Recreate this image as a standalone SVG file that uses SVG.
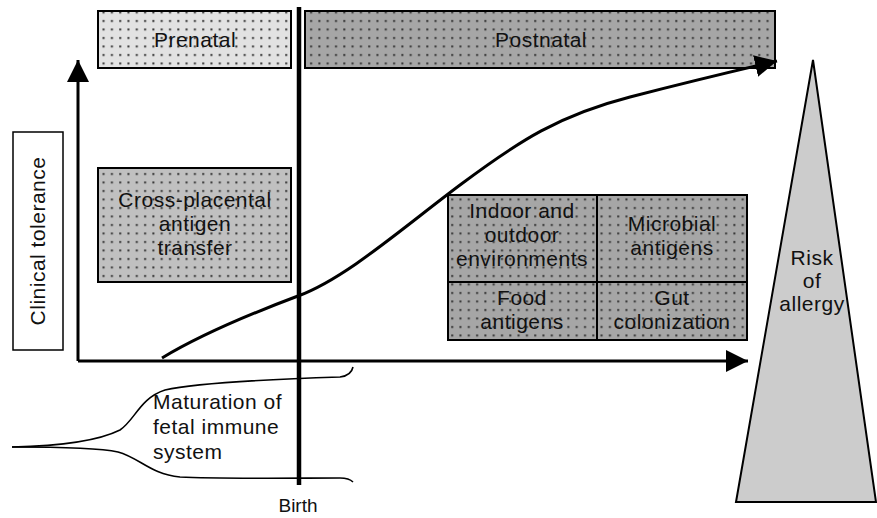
<svg xmlns="http://www.w3.org/2000/svg" width="877" height="518" viewBox="0 0 877 518">
<style>
.t{font-family:"Liberation Sans",Arial,sans-serif;font-size:21px;letter-spacing:0.5px;fill:#111;text-anchor:middle}
.box{stroke:#000;stroke-width:2}
.ax{stroke:#000;stroke-width:3;fill:none}
.thin{stroke:#000;stroke-width:1.6;fill:none}
</style>
<defs>
<pattern id="dots" x="0" y="0" width="8.3" height="8.5" patternUnits="userSpaceOnUse">
<rect x="3" y="3" width="2" height="2" fill="#333"/>
</pattern>
<marker id="ah" markerUnits="userSpaceOnUse" markerWidth="24" markerHeight="22" refX="22" refY="11" orient="auto">
<polygon points="0,0 22,11 0,22" fill="#000"/>
</marker>
</defs>
<g id="prenatal">
<rect x="98" y="11" width="193" height="57" fill="#e2e2e2"/>
<rect x="98" y="11" width="193" height="57" fill="url(#dots)" class="box"/>
<text class="t" x="195" y="47">Prenatal</text>
</g>
<g id="postnatal">
<rect x="305" y="11" width="470" height="57" fill="#a6a6a6"/>
<rect x="305" y="11" width="470" height="57" fill="url(#dots)" class="box"/>
<text class="t" x="541" y="47">Postnatal</text>
</g>
<g id="cross-placental">
<rect x="98" y="168" width="193" height="114" fill="#c0c0c0"/>
<rect x="98" y="168" width="193" height="114" fill="url(#dots)" class="box"/>
<text class="t" x="195" y="207">Cross-placental</text>
<text class="t" x="195" y="231">antigen</text>
<text class="t" x="195" y="255">transfer</text>
</g>
<g id="environment-factors">
<rect x="448" y="195" width="299" height="145" fill="#a6a6a6"/>
<rect x="448" y="195" width="299" height="145" fill="url(#dots)" class="box"/>
<line x1="597" y1="195" x2="597" y2="340" class="box"/>
<line x1="448" y1="282" x2="747" y2="282" class="box"/>
<text class="t" x="522" y="218">Indoor and</text>
<text class="t" x="522" y="242">outdoor</text>
<text class="t" x="522" y="266">environments</text>
<text class="t" x="672" y="231">Microbial</text>
<text class="t" x="672" y="255">antigens</text>
<text class="t" x="522" y="305">Food</text>
<text class="t" x="522" y="329">antigens</text>
<text class="t" x="672" y="305">Gut</text>
<text class="t" x="672" y="329">colonization</text>
</g>
<g id="clinical-tolerance">
<rect x="13" y="132" width="50" height="218" fill="#fff" stroke="#000" stroke-width="1.5"/>
<text class="t" x="0" y="0" transform="translate(45,241) rotate(-90)">Clinical tolerance</text>
</g>
<g id="risk-of-allergy">
<polygon points="813,60 736,502 876,502" fill="#cccccc" stroke="#000" stroke-width="2"/>
<text class="t" x="812" y="265">Risk</text>
<text class="t" x="812" y="288">of</text>
<text class="t" x="812" y="311">allergy</text>
</g>
<g id="maturation">
<path class="thin" d="M12,447 C60,446 100,440 120,430 C135,420 140,398 165,390 C200,382 280,379 340,377 C348,376 352,372 353,367"/>
<path class="thin" d="M12,447 C60,447 100,448 118,452 C140,458 150,474 180,477 C220,479 300,478 340,478 C348,478 351,480 353,482"/>
<text class="t" x="153" y="409" style="text-anchor:start">Maturation of</text>
<text class="t" x="153" y="434" style="text-anchor:start">fetal immune</text>
<text class="t" x="153" y="459" style="text-anchor:start">system</text>
</g>
<g id="birth">
<line x1="299" y1="7" x2="299" y2="485" stroke="#000" stroke-width="4.5"/>
<text class="t" x="298" y="512" style="font-size:19px;letter-spacing:0">Birth</text>
</g>
<g id="connectors">
<path class="ax" d="M78,361 L78,60" marker-end="url(#ah)"/>
<path class="ax" d="M78,361 L748,361" marker-end="url(#ah)"/>
<path class="ax" d="M162,358 C200,335 250,314 298,296 S400,230 460,185 S560,115 630,97 S730,72 777,61" marker-end="url(#ah)"/>
</g>
</svg>
